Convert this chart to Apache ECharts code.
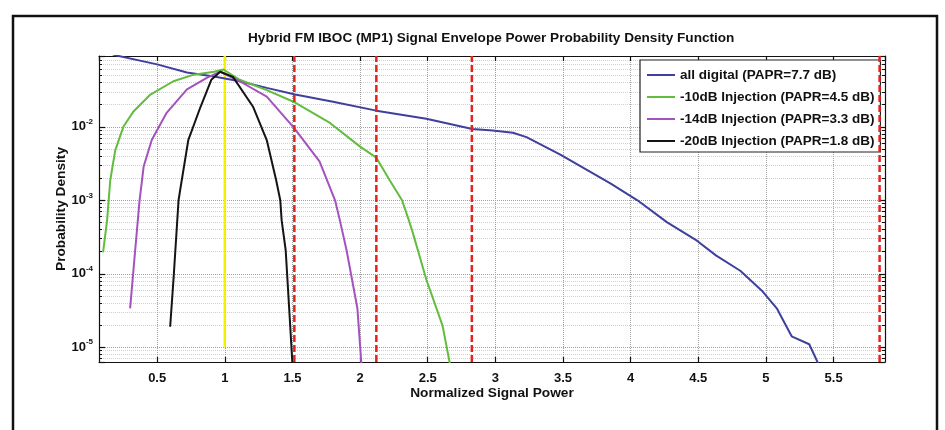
<!DOCTYPE html>
<html><head><meta charset="utf-8">
<script src="https://cdn.jsdelivr.net/npm/echarts@6.0.0/dist/echarts.min.js"></script>
<style>html,body{margin:0;padding:0;background:#fff}#c{width:945px;height:430px}</style>
</head><body><div id="c"></div>
<script>
// ---- data ----
const titleText = 'Hybrid FM IBOC (MP1) Signal Envelope Power Probability Density Function';
const seriesNames = ['all digital (PAPR=7.7 dB)', '-10dB Injection (PAPR=4.5 dB)', '-14dB Injection (PAPR=3.3 dB)', '-20dB Injection (PAPR=1.8 dB)'];

const digitalX = [0.15, 0.2, 0.5, 0.72, 0.92, 1.11, 1.31, 1.52, 1.8, 2.12, 2.49, 2.83, 2.98, 3.13, 3.23, 3.48, 3.85, 4.05, 4.27, 4.49, 4.63, 4.81, 4.97, 5.08, 5.19, 5.32, 5.39];
const digitalY = [0.1, 0.0933, 0.0708, 0.055, 0.0484, 0.0417, 0.0339, 0.0275, 0.0219, 0.0166, 0.0129, 0.00933, 0.00891, 0.00832, 0.00724, 0.00417, 0.0017, 0.001, 0.000501, 0.000282, 0.000178, 0.00011, 5.89e-5, 3.39e-5, 1.41e-5, 1.1e-5, 5.8e-6];

const inj10X = [0.10, 0.13, 0.153, 0.19, 0.25, 0.325, 0.45, 0.62, 0.77, 0.92, 0.99, 1.11, 1.31, 1.52, 1.78, 2.0, 2.12, 2.22, 2.31, 2.36, 2.39, 2.49, 2.61, 2.665];
const inj10Y = [1.95e-4, 5.37e-4, 1.86e-3, 4.79e-3, 0.01, 0.0162, 0.0275, 0.0417, 0.0513, 0.0562, 0.0603, 0.0437, 0.0316, 0.0214, 0.0112, 5.37e-3, 3.8e-3, 1.86e-3, 1.0e-3, 5.37e-4, 3.6e-4, 8.3e-5, 1.95e-5, 5.8e-6];

const inj14X = [0.30, 0.335, 0.37, 0.40, 0.46, 0.57, 0.72, 0.87, 0.966, 1.11, 1.31, 1.51, 1.70, 1.815, 1.85, 1.90, 1.98, 2.01];
const inj14Y = [3.39e-5, 1.86e-4, 1.0e-3, 2.88e-3, 6.61e-3, 0.0155, 0.0324, 0.0468, 0.0562, 0.0417, 0.0257, 9.77e-3, 3.39e-3, 1.0e-3, 5.37e-4, 2.09e-4, 3.39e-5, 5.8e-6];

const inj20X = [0.596, 0.622, 0.658, 0.67, 0.73, 0.82, 0.90, 0.966, 1.06, 1.21, 1.31, 1.38, 1.41, 1.42, 1.45, 1.48, 1.50];
const inj20Y = [1.9e-5, 9.1e-5, 1.0e-3, 1.38e-3, 6.6e-3, 0.0186, 0.0437, 0.0562, 0.0479, 0.0186, 6.6e-3, 1.86e-3, 1.0e-3, 5.37e-4, 2.09e-4, 2.5e-5, 5.8e-6];

const paprMarkersX = [1.514, 2.12, 2.826, 5.84];   // red dashed lines
const meanPowerX = 1.0;                             // yellow line
const meanLineY = [1e-5, 0.092];
const xRange = [0.07, 5.88];
const yRange = [6.3e-6, 0.092];
const yTickExps = [-5, -4, -3, -2];

// ---- chart ----
const zip = (xs, ys) => xs.map((x, i) => [x, ys[i]]);
const FONT = 'Liberation Sans, Arial, sans-serif';
const gridColor = '#a0a0a0';
const curveColors = ['#3f3f9e', '#62bd3e', '#a452bd', '#141414'];

const chart = echarts.init(document.getElementById('c'), null, {renderer: 'canvas'});

const curve = (name, data, color) => ({
  name, type: 'line', data, symbol: 'none', clip: true, z: 3,
  lineStyle: {color, width: 2}, itemStyle: {color}
});

const series = [
  curve(seriesNames[0], zip(digitalX, digitalY), curveColors[0]),
  curve(seriesNames[1], zip(inj10X, inj10Y), curveColors[1]),
  curve(seriesNames[2], zip(inj14X, inj14Y), curveColors[2]),
  curve(seriesNames[3], zip(inj20X, inj20Y), curveColors[3]),
  {
    name: 'mean', type: 'line', symbol: 'none', clip: true, z: 2,
    data: [[meanPowerX, meanLineY[0]], [meanPowerX, meanLineY[1]]],
    lineStyle: {color: '#f3f000', width: 2.5}
  }
];
paprMarkersX.forEach((x, i) => series.push({
  name: 'papr' + i, type: 'line', symbol: 'none', clip: true, z: 4,
  data: [[x, yRange[0]], [x, yRange[1]]],
  lineStyle: {color: '#e5221e', width: 2.5, type: [7, 3]}
}));

const labelStyle = {color: '#111', fontFamily: FONT, fontWeight: 'bold', fontSize: 13.7};

chart.setOption({
  animation: false,
  backgroundColor: '#fff',
  title: {
    text: titleText, left: 248, top: 31, padding: 0,
    textStyle: {color: '#111', fontFamily: FONT, fontWeight: 'bold', fontSize: 13.6}
  },
  graphic: [{
    type: 'rect', shape: {x: 13, y: 16, width: 924, height: 440},
    style: {fill: 'none', stroke: '#111', lineWidth: 2.5}, silent: true
  }],
  legend: {
    data: seriesNames.map(n => ({name: n, icon: 'rect'})),
    orient: 'vertical', left: 640, top: 60,
    itemWidth: 28, itemHeight: 2, itemGap: 6,
    padding: [7, 6, 3, 7],
    backgroundColor: '#fff', borderColor: '#222', borderWidth: 1.2,
    textStyle: Object.assign({}, labelStyle, {fontSize: 13.5, lineHeight: 16}),
    selectedMode: false
  },
  grid: {left: 99, right: 60, top: 56, bottom: 68, containLabel: false},
  xAxis: [{
    type: 'value', min: xRange[0], max: xRange[1], splitNumber: 12, position: 'bottom',
    axisLine: {show: true, onZero: false, lineStyle: {color: '#111', width: 1.2}},
    axisTick: {show: true, inside: true, length: 5, lineStyle: {color: '#111', width: 1.2}},
    axisLabel: Object.assign({showMinLabel: false, showMaxLabel: false, margin: 10}, labelStyle, {fontSize: 13}),
    splitLine: {show: true, lineStyle: {color: gridColor, type: 'dotted', width: 1}},
    name: 'Normalized Signal Power', nameLocation: 'middle', nameGap: 24, nameMoveOverlap: false,
    nameTextStyle: labelStyle
  }, {
    type: 'value', min: xRange[0], max: xRange[1], splitNumber: 12, position: 'top',
    axisLine: {show: true, onZero: false, lineStyle: {color: '#111', width: 1.2}},
    axisTick: {show: true, inside: true, length: 5, lineStyle: {color: '#111', width: 1.2}},
    axisLabel: {show: false}, splitLine: {show: false}
  }],
  yAxis: [{
    type: 'log', logBase: 10, min: yRange[0], max: yRange[1], position: 'left',
    axisLine: {show: true, onZero: false, lineStyle: {color: '#111', width: 1.2}},
    axisTick: {show: true, inside: true, length: 6, lineStyle: {color: '#111', width: 1.2}},
    minorTick: {show: true, splitNumber: 9, length: 3, lineStyle: {color: '#111', width: 1}},
    minorSplitLine: {show: true, lineStyle: {color: '#d0d0d0', type: 'dotted', width: 1}},
    splitLine: {show: true, lineStyle: {color: gridColor, type: 'dotted', width: 1}},
    axisLabel: {
      showMinLabel: false, showMaxLabel: false, margin: 6,
      formatter: v => {
        const e = Math.round(Math.log10(v));
        if (Math.abs(Math.log10(v) - e) > 0.01 || yTickExps.indexOf(e) < 0) return '';
        return '{b|10}{s|' + e + '}';
      },
      rich: {
        b: {color: '#111', fontFamily: FONT, fontWeight: 'bold', fontSize: 13, lineHeight: 18},
        s: {color: '#111', fontFamily: FONT, fontWeight: 'bold', fontSize: 8, verticalAlign: 'top', lineHeight: 10}
      }
    },
    name: 'Probability Density', nameLocation: 'middle', nameGap: 31, nameMoveOverlap: false,
    nameTextStyle: labelStyle
  }, {
    type: 'log', logBase: 10, min: yRange[0], max: yRange[1], position: 'right',
    axisLine: {show: true, onZero: false, lineStyle: {color: '#111', width: 1.2}},
    axisTick: {show: true, inside: true, length: 6, lineStyle: {color: '#111', width: 1.2}},
    minorTick: {show: true, splitNumber: 9, length: 3, lineStyle: {color: '#111', width: 1}},
    axisLabel: {show: false}, splitLine: {show: false}
  }],
  series
});
</script>
</body></html>
